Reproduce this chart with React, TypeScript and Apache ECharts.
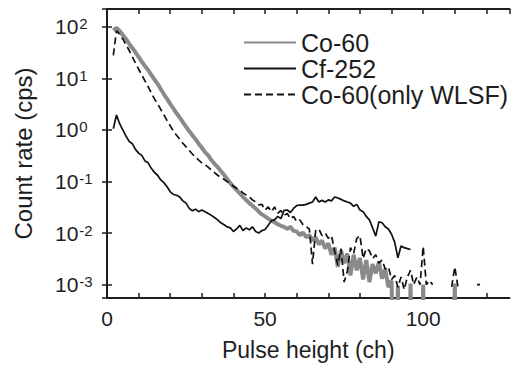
import React, { useEffect, useRef } from "react";
import * as echarts from "echarts";

// Count rate (cps) per channel; 0 = no counts (line drops below axis), null = no point
const co60Start = 2;
const co60 = [
  85, 95, 83, 69, 58, 47, 39, 32, 26, 21,
  17.4, 14.5, 11.7, 9.5, 7.8, 6.2, 4.9, 4.0, 3.2, 2.6,
  2.1, 1.74, 1.41, 1.15, 0.95, 0.79, 0.66, 0.54, 0.45, 0.37,
  0.32, 0.26, 0.22, 0.19, 0.16, 0.135, 0.112, 0.093, 0.079, 0.068,
  0.059, 0.05, 0.044, 0.038, 0.034, 0.03, 0.026, 0.023, 0.021, 0.019,
  0.0174, 0.0162, 0.0148, 0.0138, 0.0132, 0.012, 0.0132, 0.011, 0.0107, 0.0091,
  0.0102, 0.0083, 0.0091, 0.0072, 0.0083, 0.006, 0.0072, 0.005, 0.0063, 0.0038,
  0.0052, 0.0022, 0.0046, 0.0026, 0.004, 0.0015, 0.0038, 0.0019, 0.0033, 0.00126,
  0.003, 0.00112, 0.0025, 0.00166, 0.00275, 0.0013, 0.002, 0.00089, 0.0012, 0,
  0.00095, 0, 0, 0, 0.00105, 0, 0, 0, 0.001, 0,
  0, 0, 0, 0, 0, 0, 0, 0, 0.00105, 0,
];

const cf252Start = 2;
const cf252 = [
  1.05, 1.95, 1.32, 1.0, 0.76, 0.6, 0.54, 0.42, 0.355, 0.32,
  0.25, 0.23, 0.18, 0.15, 0.132, 0.107, 0.095, 0.079, 0.063, 0.056,
  0.054, 0.05, 0.042, 0.038, 0.03, 0.027, 0.029, 0.026, 0.028, 0.026,
  0.024, 0.022, 0.02, 0.018, 0.0158, 0.0145, 0.0132, 0.0126, 0.0107, 0.012,
  0.0141, 0.0112, 0.0126, 0.0115, 0.0132, 0.0107, 0.01, 0.0112, 0.0117, 0.0141,
  0.0174, 0.018, 0.021, 0.019, 0.0275, 0.028, 0.025, 0.03, 0.034, 0.035,
  0.0347, 0.036, 0.038, 0.04, 0.05, 0.04, 0.043, 0.04, 0.044, 0.042,
  0.05, 0.048, 0.045, 0.042, 0.04, 0.038, 0.033, 0.036, 0.028, 0.026,
  0.021, 0.018, 0.0126, 0.0087, 0.0166, 0.0158, 0.0132, 0.012, 0.0095, 0.0066,
  0.0033, 0.0056, 0.0052, 0.005, 0.0048,
];

const wlsfStart = 2;
const co60Wlsf = [
  28, 83, 72, 58, 45, 35, 26, 20, 15, 11.7,
  8.9, 6.9, 5.2, 4.0, 3.2, 2.5, 1.95, 1.51, 1.2, 0.95,
  0.79, 0.66, 0.55, 0.47, 0.4, 0.34, 0.3, 0.26, 0.23, 0.21,
  0.19, 0.166, 0.148, 0.132, 0.12, 0.11, 0.1, 0.089, 0.081, 0.074,
  0.068, 0.06, 0.055, 0.05, 0.044, 0.04, 0.035, 0.036, 0.028, 0.032,
  0.026, 0.032, 0.024, 0.0275, 0.022, 0.024, 0.019, 0.021, 0.0166, 0.018,
  0.0145, 0.0132, 0.012, 0.0025, 0.0112, 0.012, 0.0089, 0.01, 0.0079, 0.0089,
  0.0045, 0.0024, 0.005, 0.00112, 0.0018, 0.0052, 0.004, 0.0079, 0.0089, 0.0032,
  0.005, 0.0045, 0.0032, 0.0038, 0.0026, 0.003, 0.002, 0.0022, 0.00126, 0.0015,
  0.00089, 0.0014, 0.0008, 0.0014, 0.0019, 0.001, 0.0014, 0.001, 0.0055, 0.001,
  0.0012, 0.001, null, null, null, null, null, 0.0009, 0.0022, 0.0009,
  null, null, null, null, null, 0.001, 0.001,
];

const xLabelValues = [0, 50, 100];
const yMin = 5.5e-4;
const yMax = 221;
const xMax = 127.3;

const FLOOR = 1e-6;
const FONT = "Liberation Sans";
const INK = "#1e1e1e";

function pairs(start: number, vals: (number | null)[]) {
  return vals.map((v, i) => [start + i, v === null ? "-" : v === 0 ? FLOOR : v]);
}

function yLabel(v: number) {
  const e = Math.log10(v);
  const r = Math.round(e);
  if (Math.abs(e - r) > 1e-6) return "";
  return "10{s|" + r + "}";
}

export default function App() {
  const ref = useRef<HTMLDivElement>(null);
  useEffect(() => {
    if (!ref.current) return;
    const chart = echarts.init(ref.current, undefined, { renderer: "svg" });
    const axisLine = { show: true, lineStyle: { color: INK, width: 2 } };
    const axisTick = { show: true, inside: true, length: 5, lineStyle: { color: INK, width: 1.5 } };
    chart.setOption({
      animation: false,
      backgroundColor: "#ffffff",
      textStyle: { fontFamily: FONT },
      grid: { left: 107, right: 5.5, top: 9, bottom: 70, containLabel: false },
      legend: {
        data: ["Co-60", "Cf-252", "Co-60(only WLSF)"],
        orient: "vertical",
        left: 243,
        top: 30,
        padding: 0,
        itemWidth: 52,
        itemHeight: 14,
        itemGap: 1,
        itemStyle: { opacity: 0 },
        textStyle: { fontSize: 25, color: INK, fontFamily: FONT, lineHeight: 23, padding: [0, 0, 0, 0] },
      },
      xAxis: [
        {
          type: "value",
          min: 0,
          max: xMax,
          interval: 10,
          position: "bottom",
          axisLine,
          axisTick,
          splitLine: { show: false },
          axisLabel: {
            formatter: (v: number) => (xLabelValues.includes(v) ? String(v) : ""),
            fontSize: 21,
            color: INK,
            margin: 10,
            fontFamily: FONT,
            showMaxLabel: false,
          },
          name: "Pulse height (ch)",
          nameLocation: "middle",
          nameGap: 40,
          nameTextStyle: { fontSize: 23, color: INK, fontFamily: FONT },
        },
        {
          type: "value",
          min: 0,
          max: xMax,
          interval: 10,
          position: "top",
          axisLine,
          axisTick,
          splitLine: { show: false },
          axisLabel: { show: false },
        },
      ],
      yAxis: [
        {
          type: "log",
          logBase: 10,
          min: yMin,
          max: yMax,
          position: "left",
          axisLine,
          axisTick,
          splitLine: { show: false },
          axisLabel: {
            formatter: yLabel,
            align: "left",
            margin: 52,
            fontSize: 21,
            color: INK,
            fontFamily: FONT,
            rich: {
              s: { fontSize: 15, verticalAlign: "top", lineHeight: 14, color: INK, fontFamily: FONT, padding: [0, 0, 8, 1] },
            },
          },
          name: "Count rate (cps)",
          nameLocation: "middle",
          nameGap: 72,
          nameRotate: 90,
          nameTextStyle: { fontSize: 24, color: INK, fontFamily: FONT },
        },
        {
          type: "log",
          logBase: 10,
          min: yMin,
          max: yMax,
          position: "right",
          axisLine,
          axisTick,
          splitLine: { show: false },
          axisLabel: { show: false },
        },
      ],
      series: [
        {
          name: "Co-60",
          type: "line",
          data: pairs(co60Start, co60),
          symbol: "none",
          clip: true,
          z: 1,
          itemStyle: { color: "#8a8a8a" },
          lineStyle: { color: "#8a8a8a", width: 4 },
        },
        {
          name: "Cf-252",
          type: "line",
          data: pairs(cf252Start, cf252),
          symbol: "none",
          clip: true,
          z: 3,
          itemStyle: { color: "#111" },
          lineStyle: { color: "#111", width: 1.7 },
        },
        {
          name: "Co-60(only WLSF)",
          type: "line",
          data: pairs(wlsfStart, co60Wlsf),
          symbol: "none",
          clip: true,
          z: 2,
          itemStyle: { color: "#111" },
          lineStyle: { color: "#111", width: 1.7, type: [7, 4] },
        },
      ],
    });
    return () => chart.dispose();
  }, []);
  return (
    <div
      ref={ref}
      style={{ position: "fixed", left: 0, top: 0, width: 515, height: 368, background: "#fff" }}
    />
  );
}
